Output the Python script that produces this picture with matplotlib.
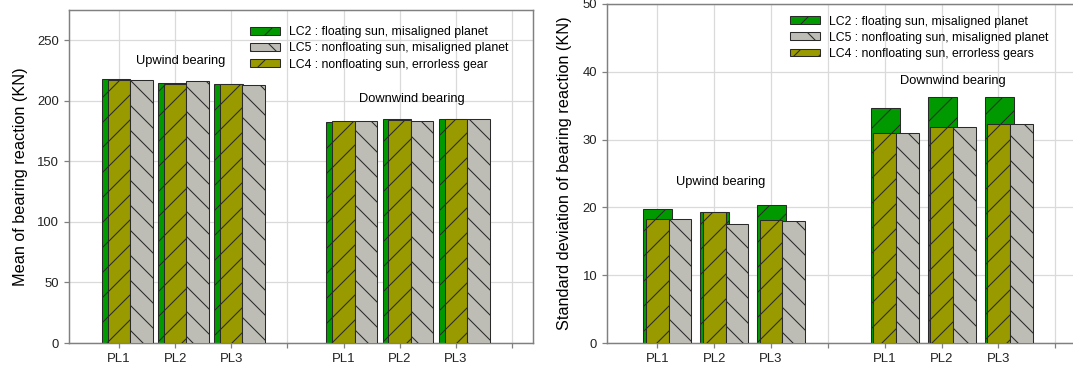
'''
Reacciones de los rodamientos de los planetas:
media y desviacion estandar para tres casos de carga
'''
import matplotlib
matplotlib.use('Agg')
import matplotlib.pyplot as plt
import numpy as np

# Fuente tipo Arial
plt.rcParams['font.family'] = ['Liberation Sans', 'DejaVu Sans']
plt.rcParams['hatch.linewidth'] = 0.5

# Datos (upwind PL1..PL3, downwind PL1..PL3)
posiciones = [1, 2, 3, 5, 6, 7]
etiquetas_x = ['PL1', 'PL2', 'PL3', '', 'PL1', 'PL2', 'PL3', '']

media_lc2 = [218.0, 214.5, 213.8, 182.3, 185.3, 184.8]
media_lc4 = [217.6, 214.3, 213.6, 183.2, 184.3, 184.6]
media_lc5 = [217.6, 216.2, 213.3, 183.2, 183.2, 184.9]

desv_lc2 = [19.8, 19.3, 20.3, 34.6, 36.3, 36.3]
desv_lc4 = [18.3, 19.25, 18.1, 30.9, 31.8, 32.3]
desv_lc5 = [18.35, 17.55, 18.05, 30.9, 31.8, 32.3]

# Colores
verde = '#009a00'
oliva = '#999900'
gris = '#bdbdb5'
borde = '#2a2a2a'
ejes = '#808080'

# Figura de 1073x371 pixeles
fig = plt.figure(figsize=(1073 / 150, 371 / 150), dpi=150)
ax1 = fig.add_axes([69 / 1073, 28 / 371, 464 / 1073, 333 / 371])
ax2 = fig.add_axes([607 / 1073, 28 / 371, 469.6 / 1073, 339 / 371])


def dibujar(ax, lc2, lc4, lc5, desfase, textos_lc4, y_leyenda):
    x = np.array(posiciones)
    # primero LC2 (verde), luego LC4 encima y LC5 a la derecha
    b2 = ax.bar(x + desfase, lc2, width=0.51, color=verde, edgecolor=borde,
                hatch='//', lw=0.5, zorder=2)
    b4 = ax.bar(x, lc4, width=0.4, color=oliva, edgecolor=borde,
                hatch='//', lw=0.5, zorder=3)
    b5 = ax.bar(x + 0.4, lc5, width=0.4, color=gris, edgecolor=borde,
                hatch='\\\\', lw=0.5, zorder=4)
    ax.set_xticks(range(1, 9))
    ax.set_xticklabels(etiquetas_x)
    ax.grid(True, color='#dadada', lw=0.6)
    ax.set_axisbelow(True)
    for s in ax.spines.values():
        s.set_color(ejes)
        s.set_linewidth(0.7)
    ax.tick_params(direction='out', length=2.2, width=0.6, color=ejes,
                   labelsize=6.3, pad=2.5, labelcolor='#222222')
    ax.legend([b2, b5, b4],
              ['LC2 : floating sun, misaligned planet',
               'LC5 : nonfloating sun, misaligned planet',
               textos_lc4],
              loc='upper left', bbox_to_anchor=(0.39, y_leyenda),
              frameon=False, fontsize=5.9, handlelength=2.45,
              handleheight=0.6, handletextpad=0.7, labelspacing=0.34,
              borderpad=0, borderaxespad=0)


# Grafica de la media
dibujar(ax1, media_lc2, media_lc4, media_lc5, -0.05,
        'LC4 : nonfloating sun, errorless gear', 0.951)
ax1.set_xlim(0.11, 8.374)
ax1.set_ylim(0, 275)
ax1.set_yticks(range(0, 251, 50))
ax1.set_ylabel('Mean of bearing reaction (KN)', fontsize=7.8, labelpad=4.5)
ax1.text(2.10, 232.7, 'Upwind bearing', ha='center', va='center', fontsize=6.2)
ax1.text(6.22, 201.3, 'Downwind bearing', ha='center', va='center', fontsize=6.2)

# Grafica de la desviacion estandar
dibujar(ax2, desv_lc2, desv_lc4, desv_lc5, 0.01,
        'LC4 : nonfloating sun, errorless gears', 0.966)
ax2.set_xlim(0.115, 8.374)
ax2.set_ylim(0, 50)
ax2.set_yticks(range(0, 51, 10))
ax2.set_ylabel('Standard deviation of bearing reaction (KN)', fontsize=7.8,
               labelpad=5)
ax2.text(2.11, 23.8, 'Upwind bearing', ha='center', va='center', fontsize=6.2)
ax2.text(6.20, 38.7, 'Downwind bearing', ha='center', va='center', fontsize=6.2)

fig.savefig('out.png', dpi=150)
